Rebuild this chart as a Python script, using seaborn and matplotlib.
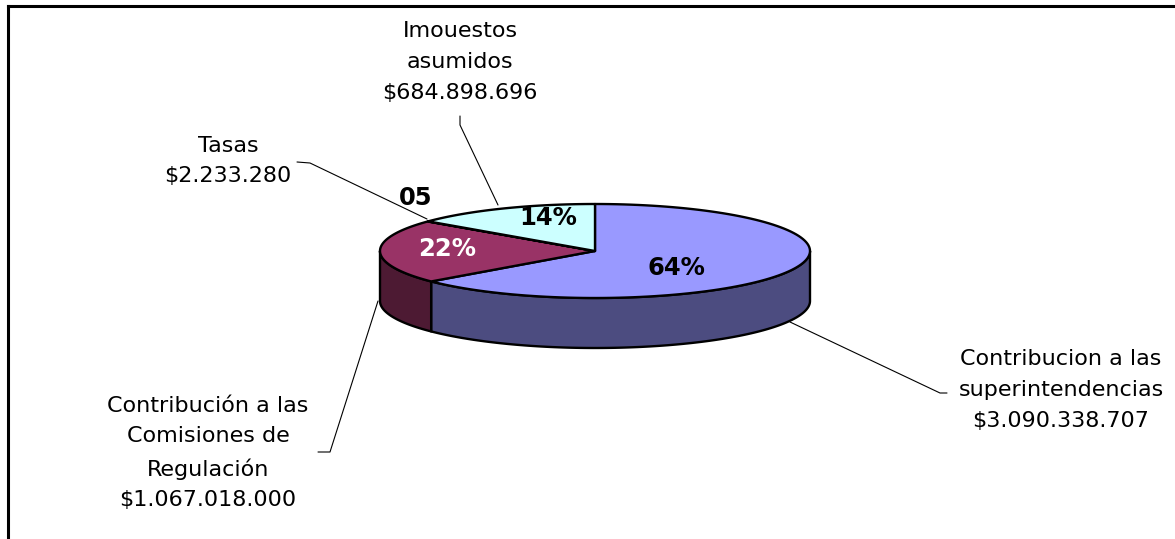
import numpy as np
import matplotlib
matplotlib.use("Agg")
import matplotlib.pyplot as plt
import seaborn as sns
from matplotlib.patches import Polygon

# ---- data ----
categories = ["Contribucion a las\nsuperintendencias",
              "Contribución a las\nComisiones de\nRegulación",
              "Tasas",
              "Imouestos\nasumidos"]
values = [3090338707, 1067018000, 2233280, 684898696]
value_labels = ["$3.090.338.707", "$1.067.018.000", "$2.233.280", "$684.898.696"]
pct_labels = ["64%", "22%", "05", "14%"]

top_colors = sns.color_palette(["#9999FF", "#993366", "#FFFFCC", "#CCFFFF"])
side_colors = sns.color_palette(["#4C4C80", "#4D1A33", "#80806A", "#6A8080"])

sns.set_theme(style="white")
plt.rcParams['font.family'] = ['DejaVu Sans']

fig = plt.figure(figsize=(11.75, 5.39), dpi=100)
ax = fig.add_axes([0, 0, 1, 1])
ax.set_xlim(0, 1175)
ax.set_ylim(539, 0)
ax.axis('off')

# ---- 3D pie geometry ----
cx, cy, a, b, depth = 595, 251, 215, 47, 50
frac = np.array(values, dtype=float) / np.sum(values)
starts = 90 - 360 * np.concatenate([[0], np.cumsum(frac)[:-1]])
ends = starts - 360 * frac


def arc(t1, t2, n=120, dy=0):
    t = np.radians(np.linspace(t1, t2, n))
    return np.column_stack([cx + a * np.cos(t), cy - b * np.sin(t) + dy])


# side walls (front half only)
for s, e, col in zip(starts, ends, side_colors):
    for k in (-1, 0, 1):
        lo, hi = -180 + 360 * k, 0 + 360 * k
        t1, t2 = max(e, lo), min(s, hi)
        if t2 - t1 > 0.01:
            top = arc(t1, t2)
            bot = arc(t2, t1, dy=depth)
            ax.add_patch(Polygon(np.vstack([top, bot]), closed=True,
                                 facecolor=col, edgecolor='black', lw=1.7,
                                 joinstyle='round', zorder=2))

# top faces
for s, e, col in zip(starts, ends, top_colors):
    pts = np.vstack([[cx, cy], arc(s, e)])
    ax.add_patch(Polygon(pts, closed=True, facecolor=col, edgecolor='black',
                         lw=1.7, joinstyle='round', zorder=3))

# percentage labels
pct_pos = [(676, 268), (447, 249), (416, 198), (548, 218)]
pct_colors = ['black', 'white', 'black', 'black']
for lab, (x, y), c in zip(pct_labels, pct_pos, pct_colors):
    ax.text(x, y, lab, ha='center', va='center', fontsize=17.5,
            fontweight='bold', color=c, zorder=5)

# category labels with leader lines
cat_pos = [(1061, 390), (208, 453), (228, 161), (460, 62)]
leaders = [
    [(790, 322), (940, 393), (947, 393)],
    [(378, 301), (330, 452), (318, 452)],
    [(427, 219), (310, 163), (297, 162)],
    [(498, 205), (460, 125), (460, 116)],
]
for cat, val, (x, y), ld in zip(categories, value_labels, cat_pos, leaders):
    ax.text(x, y, cat + "\n" + val, ha='center', va='center', fontsize=16,
            linespacing=1.66, color='black', zorder=5)
    xs, ys = zip(*ld)
    ax.plot(xs, ys, color='black', lw=0.8, zorder=4)

# outer frame (partially visible)
ax.plot([8, 8], [539, 6], color='black', lw=2.2, solid_capstyle='projecting')
ax.plot([8, 1175], [6, 6], color='black', lw=2.2, solid_capstyle='projecting')

fig.savefig("out.png", dpi=100, facecolor='white')
